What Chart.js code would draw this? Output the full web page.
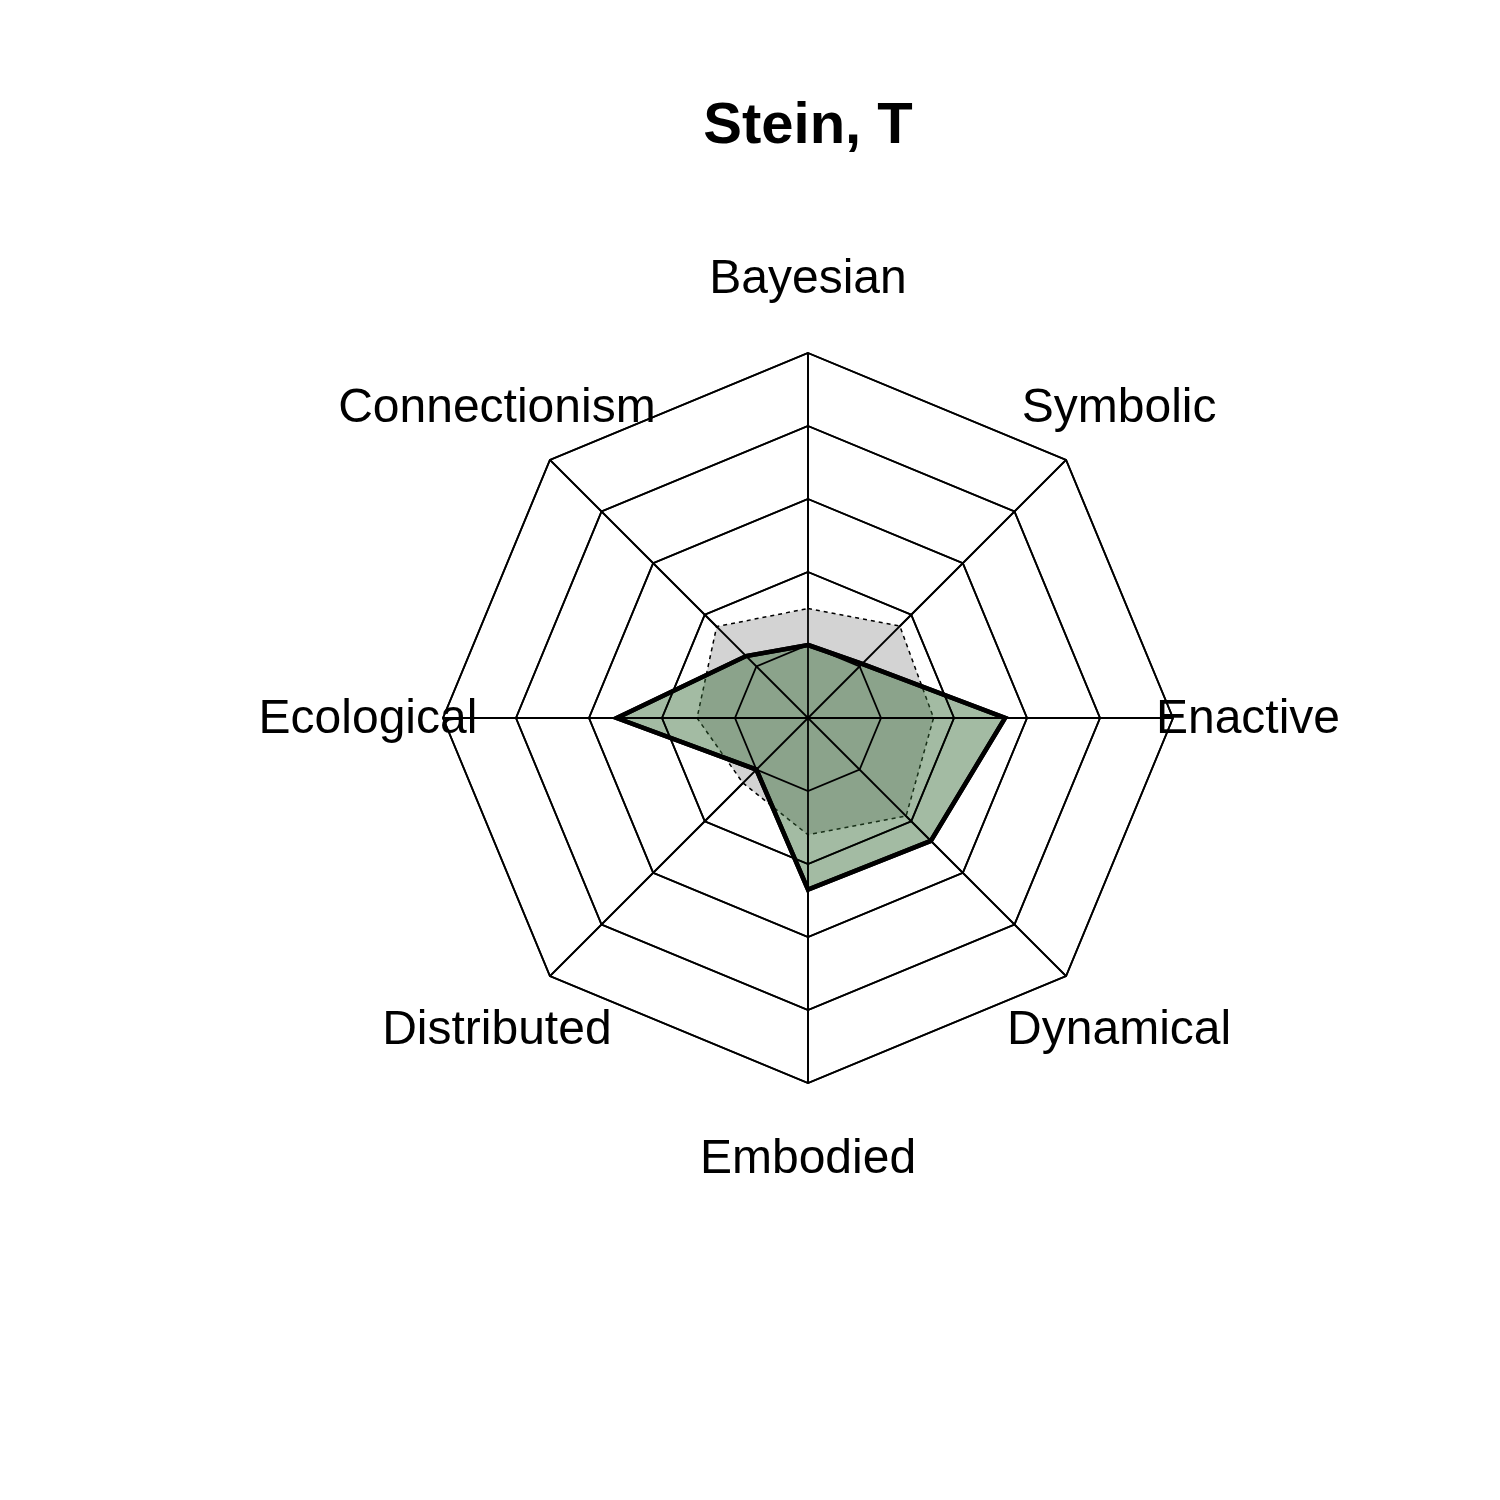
<!DOCTYPE html>
<html>
<head>
<meta charset="utf-8">
<script src="https://cdn.jsdelivr.net/npm/chart.js@4/dist/chart.umd.min.js"></script>
<style>body{margin:0;background:#fff}</style>
</head>
<body>
<canvas id="radar" width="1500" height="1500"></canvas>
<script>
// axes clockwise from the top
const axes = ['Bayesian', 'Symbolic', 'Enactive', 'Dynamical', 'Embodied', 'Distributed', 'Ecological', 'Connectionism'];
const person = [1.0, 1.05, 2.7, 2.38, 2.35, 1.0, 2.62, 1.2];
const average = [1.5, 1.78, 1.72, 1.9, 1.6, 1.26, 1.52, 1.77];
const rings = [1, 2, 3, 4, 5];
const title = 'Stein, T';

const labelsPlugin = {
    id: 'labelsPlugin',
    afterDatasetsDraw(chart) {
        // grid sits on top of the filled areas, as in the original
        const ctx = chart.ctx;
        const s = chart.scales.r;
        ctx.save();
        ctx.strokeStyle = '#000';
        ctx.lineWidth = 1.8;
        rings.forEach(v => {
            const d = s.getDistanceFromCenterForValue(v);
            ctx.beginPath();
            axes.forEach((a, i) => {
                const p = s.getPointPosition(i, d);
                i ? ctx.lineTo(p.x, p.y) : ctx.moveTo(p.x, p.y);
            });
            ctx.closePath();
            ctx.stroke();
        });
        axes.forEach((a, i) => {
            const p = s.getPointPosition(i, s.drawingArea);
            ctx.beginPath();
            ctx.moveTo(s.xCenter, s.yCenter);
            ctx.lineTo(p.x, p.y);
            ctx.stroke();
        });
        ctx.restore();
        // redraw the person outline above the grid
        chart.getDatasetMeta(0).dataset.draw(ctx, chart.chartArea);
    },
    afterDraw(chart) {
        const ctx = chart.ctx;
        const s = chart.scales.r;
        ctx.save();
        ctx.fillStyle = '#000';
        ctx.textAlign = 'center';
        ctx.textBaseline = 'middle';
        ctx.font = '48px "Liberation Sans", Arial, sans-serif';
        axes.forEach((a, i) => {
            const p = s.getPointPosition(i, s.drawingArea * 440 / 365);
            ctx.fillText(a, p.x, p.y + 2);
        });
        ctx.font = 'bold 58px "Liberation Sans", Arial, sans-serif';
        ctx.fillText(title, s.xCenter, 127);
        ctx.restore();
    }
};

new Chart(document.getElementById('radar').getContext('2d'), {
    type: 'radar',
    data: {
        labels: axes,
        datasets: [{
            data: person,
            borderColor: '#000',
            borderWidth: 4.5,
            backgroundColor: 'rgba(53,105,53,0.455)',
            fill: true,
            pointRadius: 0,
            tension: 0
        }, {
            data: average,
            borderColor: '#000',
            borderWidth: 1.5,
            borderDash: [4, 4],
            backgroundColor: '#d3d3d3',
            fill: true,
            pointRadius: 0,
            tension: 0
        }]
    },
    options: {
        responsive: false,
        animation: false,
        layout: { padding: { left: 443, right: 327, top: 353, bottom: 417 } },
        plugins: { legend: { display: false }, title: { display: false }, tooltip: { enabled: false } },
        scales: {
            r: {
                min: 0, max: 5,
                ticks: { display: false, stepSize: 1 },
                pointLabels: { display: false },
                grid: { color: '#000', lineWidth: 1.8 },
                angleLines: { color: '#000', lineWidth: 1.8 }
            }
        }
    },
    plugins: [labelsPlugin]
});
</script>
</body>
</html>
